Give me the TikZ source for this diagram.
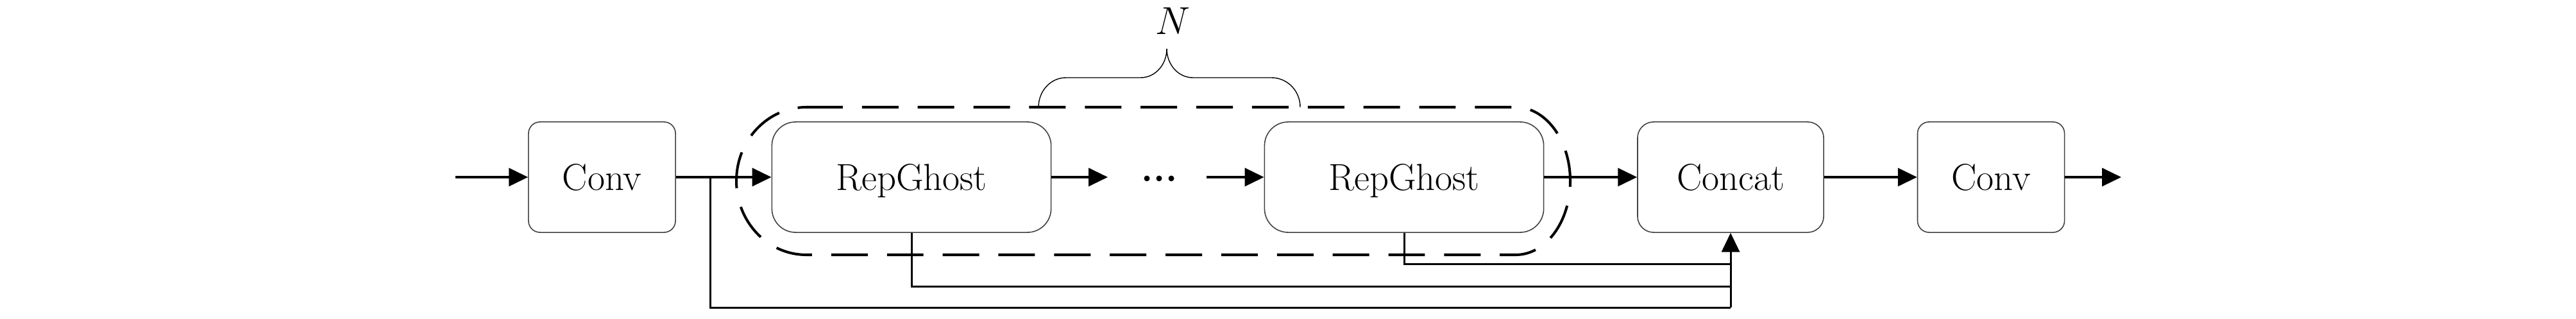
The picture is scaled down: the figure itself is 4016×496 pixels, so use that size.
\documentclass[tikz,border=0pt]{standalone}
\usetikzlibrary{arrows.meta}
\begin{document}
\begin{tikzpicture}[x=0.01cm,y=0.01cm,
  blk/.style={draw=black!75, line width=0.45pt, minimum height=1.72cm, inner sep=0pt,
    font=\fontsize{16.7}{20}\selectfont, text height=11.4pt, text depth=0pt},
  convbox/.style={blk, minimum width=2.29cm, rounded corners=0.18cm},
  repbox/.style={blk, minimum width=4.35cm, rounded corners=0.37cm},
  catbox/.style={blk, minimum width=2.90cm, rounded corners=0.25cm},
  tip/.style={-{Triangle[length=8.5pt,width=8pt]}},
  flow/.style={line width=1pt, tip},
  skipline/.style={line width=0.85pt},
  grp/.style={line width=1.15pt, dash pattern=on 16.2pt off 8.5pt},
  brc/.style={line width=0.4pt}]
\useasboundingbox (0,0) rectangle (4016,496);

% blocks
\node[convbox] (conv1) at (938.5,220) {Conv};
\node[repbox] (rep1) at (1421,220) {RepGhost};
\node[repbox] (rep2) at (2189,220) {RepGhost};
\node[catbox] (cat) at (2698,220) {Concat};
\node[convbox] (conv2) at (3104,220) {Conv};

% free ends
\coordinate (in) at (710,220);
\coordinate (out) at (3307,220);
\coordinate (r1end) at (1727,220);
\coordinate (r2start) at (1881,220);
\coordinate (b0) at (1107,220);
\coordinate (j1) at (2698,17);
\coordinate (j2) at (2698,50);
\coordinate (j3) at (2698,85);

% dashed group
\draw[grp] (1257,329) -- (2363,329)
  arc[start angle=90,end angle=-90,x radius=85,y radius=115]
  -- (1257,99)
  arc[start angle=-90,end angle=-270,x radius=109,y radius=115] -- cycle;

% main flow
\draw[flow] (in) -- (conv1);
\draw[flow] (conv1) -- (rep1);
\draw[flow] (rep1) -- (r1end);
\draw[flow] (r2start) -- (rep2);
\draw[flow] (rep2) -- (cat);
\draw[flow] (cat) -- (conv2);
\draw[flow] (conv2) -- (out);

% dots
\fill (1788,218) circle[radius=4.5];
\fill (1807,218) circle[radius=4.5];
\fill (1826,218) circle[radius=4.5];

% skip connections
\draw[skipline] (b0) |- (j1);
\draw[skipline] (rep1.south) |- (j2);
\draw[skipline] (rep2.south) |- (j3);
\draw[skipline, tip] (j1) -- (cat.south);

% brace and label
\draw[brc] (1619,329) to[out=90,in=180] (1662,375) -- (1778,375) to[out=0,in=-90] (1819,420);
\draw[brc] (1819,420) to[out=-90,in=180] (1860,375) -- (1982,375) to[out=0,in=90] (2027,329);
\node[font=\fontsize{16.7}{20}\selectfont, inner sep=0pt] (N) at (1828,463) {$N$};
\end{tikzpicture}
\end{document}
